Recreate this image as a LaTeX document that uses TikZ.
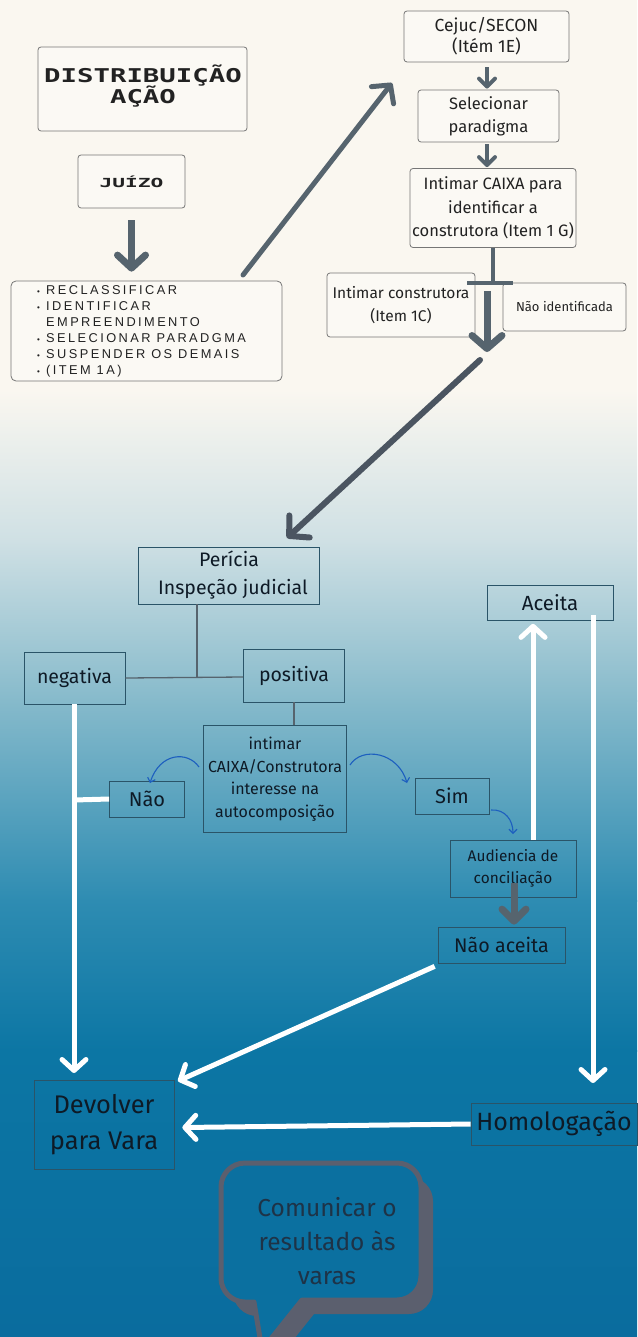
\documentclass[tikz,border=0pt]{standalone}
\usepackage{fontspec}
\setmainfont{Fira Sans}
\newfontfamily\blockfont{DejaVu Sans Mono}
\newfontfamily\spacedfont[LetterSpace=19]{Liberation Sans}
\usetikzlibrary{arrows.meta,calc}
\definecolor{bgA}{HTML}{FAF7F0}
\definecolor{bgB}{HTML}{CFE0E4}
\definecolor{bgC}{HTML}{86BACB}
\definecolor{bgD}{HTML}{2E8CB2}
\definecolor{bgE}{HTML}{0C76A4}
\definecolor{bgF}{HTML}{0A6C9E}
\definecolor{topline}{HTML}{767676}
\definecolor{topfill}{HTML}{FBF9F4}
\definecolor{toptext}{HTML}{222222}
\definecolor{lowline}{HTML}{2A5468}
\definecolor{lowtext}{HTML}{0E1A26}
\definecolor{arrgray}{HTML}{56646E}
\definecolor{diaggray}{HTML}{4B5561}
\definecolor{curveblue}{HTML}{1D5FBF}
\definecolor{bubgray}{HTML}{5B5F6E}
\definecolor{bubtext}{HTML}{1E3347}
\definecolor{bubfill}{HTML}{0B70A0}
\newcommand\fsz[1]{\fontsize{#1}{\fpeval{#1*1.3}}\selectfont}
\newcommand\bulitem{\makebox[9pt][l]{\fontsize{8}{8}\selectfont •}}
\begin{document}
\begin{tikzpicture}[x=1pt,y=-1pt,
  topbox/.style={draw=topline, line width=0.8pt, fill=topfill, rounded corners=3pt, text=toptext, align=center, inner sep=0pt},
  lowbox/.style={draw=lowline, line width=0.7pt, text=lowtext, align=center, inner sep=0pt},
  gline/.style={draw=arrgray, line width=1.3pt},
  warrow/.style={draw=white, line width=5pt, -{Straight Barb[round,length=11pt,width=24pt]}},
  barrow/.style={draw=curveblue, line width=1.1pt, -{Straight Barb[length=4pt,width=8pt]}}
]
\useasboundingbox (0,0) rectangle (637,1337);
% background
\fill[bgA] (0,-1) rectangle (637,391);
\shade[top color=bgA, bottom color=bgB] (0,390) rectangle (637,541);
\shade[top color=bgB, bottom color=bgC] (0,540) rectangle (637,701);
\shade[top color=bgC, bottom color=bgD] (0,700) rectangle (637,901);
\shade[top color=bgD, bottom color=bgE] (0,900) rectangle (637,1051);
\shade[top color=bgE, bottom color=bgF] (0,1050) rectangle (637,1338);

% top-left column
\node[topbox, minimum width=209pt, minimum height=84pt] (dist) at (142.5,89) {};
\node[text=toptext, align=center, inner sep=0pt, font=\blockfont\bfseries\fontsize{19}{20}\selectfont] (disttxt) at (143,86)
  {\scalebox{1.44}[1]{DISTRIBUIÇÃO}\\[-1pt]\scalebox{1.44}[1]{AÇÃO}};
\node[topbox, minimum width=107pt, minimum height=53pt, font=\blockfont\bfseries\fontsize{12.5}{14}\selectfont] (juizo) at (131.5,181.5)
  {\scalebox{1.7}[1]{JUÍZO}};
\node[topbox, minimum width=271pt, minimum height=100pt, rounded corners=5pt] (list) at (146.5,331) {};
\node[anchor=west, align=left, inner sep=0pt, text=toptext, font=\spacedfont\fontsize{12.8}{16}\selectfont] (listtxt) at (37,331)
  {\bulitem RECLASSIFICAR\\\bulitem IDENTIFICAR\\\hspace*{9pt}EMPREENDIMENTO\\\bulitem SELECIONAR PARADGMA\\\bulitem SUSPENDER OS DEMAIS\\\bulitem (ITEM 1A)};

% top-right column
\node[topbox, minimum width=165pt, minimum height=51pt, font=\fontsize{17.5}{21}\selectfont] (cejuc) at (486.5,36.5) {Cejuc/SECON\\(Itém 1E)};
\node[topbox, minimum width=141pt, minimum height=52pt, font=\fontsize{16.5}{23}\selectfont] (selec) at (488.5,116) {Selecionar\\paradigma};
\node[topbox, minimum width=166pt, minimum height=79pt, font=\fontsize{16.5}{23.5}\selectfont] (caixa) at (493,208) {Intimar CAIXA para\\identificar a\\construtora (Item 1 G)};
\node[topbox, minimum width=148pt, minimum height=64pt, font=\fontsize{15.5}{23}\selectfont] (constr) at (401,305) {Intimar construtora\\(Item 1C)};
\node[topbox, minimum width=123pt, minimum height=48pt, font=\fsz{13}] (naoid) at (564.5,307) {Não identificada};

% top connectors
\draw[draw=arrgray, line width=7pt, -{Straight Barb[round,length=13pt,width=28pt]}] ($(juizo.south)+(0,12)$) -- ($(list.north)+(-15,-9)$);
\coordinate (d1s) at (243,275);
\coordinate (d1e) at (392,83);
\draw[draw=arrgray, line width=5pt, line cap=round, -{Straight Barb[round,length=13pt,width=28pt]}] (d1s) -- (d1e);
\draw[draw=arrgray, line width=4pt, -{Straight Barb[round,length=8pt,width=16pt]}] ($(cejuc.south)+(0.5,5)$) -- ($(selec.north)+(-1.5,-1)$);
\draw[draw=arrgray, line width=4pt, -{Straight Barb[round,length=8pt,width=16pt]}] ($(selec.south)+(-1.5,2)$) -- ($(caixa.north)+(-6,-1)$);
\coordinate (tj) at (493,283);
\draw[draw=arrgray, line width=3.5pt] (caixa.south) -- (tj);
\coordinate (tl) at (467,283);
\coordinate (tr) at (513,283);
\draw[draw=arrgray, line width=3.5pt] (tl) -- (tr);
\coordinate (ta) at (487,291);
\coordinate (tb) at (487,352);
\draw[draw=arrgray, line width=7pt, -{Straight Barb[round,length=13pt,width=30pt]}] (ta) -- (tb);
\coordinate (d2s) at (480,360);
\coordinate (d2e) at (287,538);
\draw[draw=diaggray, line width=6pt, line cap=round, -{Straight Barb[round,length=14pt,width=30pt]}] (d2s) -- (d2e);

% lower part
\node[lowbox, minimum width=181pt, minimum height=57pt, font=\fontsize{19.5}{28}\selectfont] (pericia) at (229,575.5) {Perícia\\\hspace*{8pt}Inspeção judicial};
\node[lowbox, minimum width=101pt, minimum height=52pt, font=\fsz{19.5}] (neg) at (74.5,678) {negativa};
\node[lowbox, minimum width=101pt, minimum height=53pt, font=\fsz{19.5}] (pos) at (294,675.5) {positiva};
\node[lowbox, minimum width=143pt, minimum height=107pt, font=\fontsize{16}{22.5}\selectfont] (intimar) at (275,779) {intimar\\CAIXA/Construtora\\interesse na\\autocomposição};
\node[lowbox, minimum width=75pt, minimum height=36pt, font=\fsz{20}] (nao) at (147,799) {Não};
\node[lowbox, minimum width=74pt, minimum height=36pt, font=\fsz{20}] (sim) at (452,796) {Sim};
\node[lowbox, minimum width=126pt, minimum height=35pt, font=\fsz{20.5}] (aceita) at (550,603) {Aceita};
\node[lowbox, minimum width=126pt, minimum height=57pt, font=\fontsize{15.4}{22}\selectfont] (aud) at (513,868.5) {Audiencia de\\conciliação};
\node[lowbox, minimum width=127pt, minimum height=36pt, font=\fsz{19.7}] (naoac) at (501.5,945) {Não aceita};
\node[lowbox, minimum width=140pt, minimum height=89pt, font=\fontsize{25.5}{36}\selectfont] (devolver) at (104,1124.5) {Devolver\\para Vara};
\node[lowbox, minimum width=166pt, minimum height=42pt, font=\fsz{25}] (homolog) at (554,1124) {Homologação};

% thin connectors
\coordinate (jn) at (197,677);
\draw[gline] (pericia.south -| jn) -- (jn);
\draw[gline] (neg.east) -- (pos.west |- jn);
\draw[gline] (pos.south) -- (intimar.north -| pos.south);

% blue curved arrows
\draw[barrow] (199,767) .. controls (188,751) and (160,752) .. (150,783);
\draw[barrow] (350,765) .. controls (362,746) and (398,752) .. (407,783);
\draw[barrow] (491,810) .. controls (505,809) and (513,820) .. (513,834);

% white arrows
\coordinate (negbot) at (74,704);
\coordinate (negarr) at (74,1073);
\draw[warrow] (negbot) -- (negarr);
\coordinate (naojn) at (74,800);
\draw[draw=white, line width=5pt] (naojn) -- (nao.west);
\draw[warrow] (533,840) -- ($(aceita.south)+(-17,3)$);
\draw[warrow] ($(aceita.south)+(43,-6)$) -- (593,1083);
\draw[warrow] ($(naoac.south west)+(-3,3)$) -- (178,1081);
\draw[warrow] (homolog.west) -- ($(devolver.east)+(8,3)$);
\draw[draw=arrgray, line width=7pt, -{Straight Barb[round,length=12pt,width=24pt]}] (514,883) -- ($(naoac.north)+(12.5,-2)$);

% speech bubble
\def\bubpath{(262,1350) -- (254,1302) [rounded corners=24pt] -- (221,1302) -- (221,1163) -- (421,1163) -- (421,1300) [sharp corners] -- (302,1300) -- cycle}
\fill[bubgray, shift={(12,14)}] \bubpath;
\filldraw[draw=bubgray, fill=bubfill, line width=5pt, line join=round] \bubpath;
\node[text=bubtext, align=center, font=\fontsize{24.5}{34}\selectfont] (bubtxt) at (327,1241) {Comunicar o\\resultado às\\varas};
\end{tikzpicture}
\end{document}
